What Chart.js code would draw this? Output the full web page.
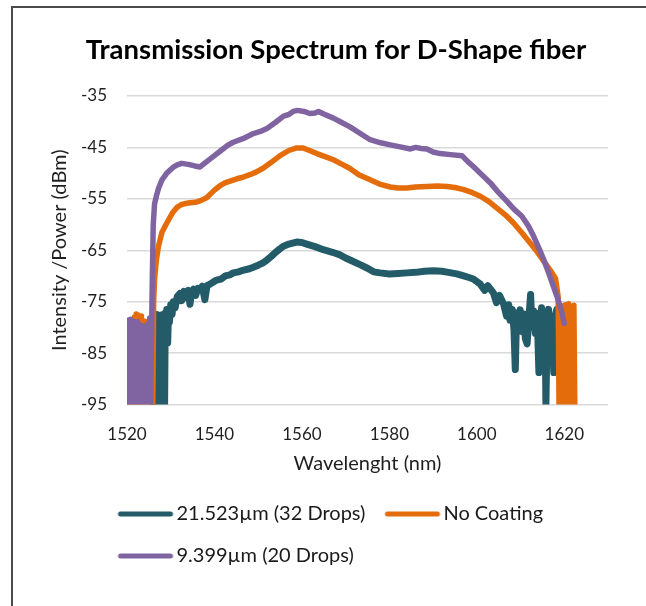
<!DOCTYPE html>
<html lang="en">
<head>
<meta charset="UTF-8">
<title>Transmission Spectrum for D-Shape fiber</title>
<style>
  html, body { margin: 0; padding: 0; background: #fff; }
  #wrap { position: relative; width: 646px; height: 606px; overflow: hidden; }
  #frame { position: absolute; left: 11px; top: 6px; width: 700px; height: 700px;
           border-top: 2px solid #4a4a4a; border-left: 2px solid #4a4a4a; }
  canvas { position: absolute; left: 0; top: 0; }
</style>
</head>
<body>
<div id="wrap">
  <div id="frame"></div>
  <canvas id="myChart" width="646" height="606"></canvas>
</div>

<script src="https://cdn.jsdelivr.net/npm/chart.js"></script>

<script>
  // series (wavelength nm / power dBm)
  const tealLabel = '21.523µm (32 Drops)';
  const tealWl = [1526.2, 1526.35, 1526.5, 1526.65, 1526.8, 1526.95, 1527.1, 1527.25, 1527.4, 1527.55,
    1527.7, 1527.85, 1528.0, 1528.15, 1528.3, 1528.45, 1528.6, 1528.75, 1528.9, 1529.1,
    1529.3, 1529.5, 1529.7, 1530.0, 1530.3, 1530.6, 1531.0, 1531.5, 1532.1, 1532.5,
    1533.0, 1533.5, 1534.0, 1534.4, 1534.8, 1535.2, 1535.7, 1536.2, 1536.7, 1537.2,
    1537.8, 1538.3, 1539.0, 1539.7, 1540.5, 1541.5, 1542.5, 1543.5, 1544.3, 1545.5,
    1546.5, 1548.0, 1548.9, 1550.0, 1551.0, 1552.0, 1553.0, 1554.0, 1555.0, 1555.8,
    1557.0, 1558.8, 1560.0, 1561.1, 1563.0, 1564.9, 1567.0, 1568.7, 1570.0, 1571.0,
    1573.3, 1575.0, 1576.4, 1577.9, 1580.0, 1582.0, 1584.0, 1586.0, 1588.0, 1590.1,
    1592.0, 1593.5, 1595.4, 1597.0, 1598.2, 1599.2, 1600.8, 1601.8, 1602.5, 1603.8,
    1604.5, 1605.2, 1606.1, 1606.8, 1607.3, 1607.6, 1608.1, 1608.5, 1608.8, 1609.1,
    1609.5, 1609.9, 1610.3, 1610.7, 1611.1, 1611.5, 1611.9, 1612.3, 1612.6, 1613.0,
    1613.4, 1613.8, 1614.2, 1614.5, 1614.8, 1615.2, 1615.6, 1615.8, 1616.1, 1616.4,
    1616.8, 1617.2, 1617.6, 1617.9, 1618.3, 1618.7, 1619.1, 1619.6, 1620.1, 1620.6,
    1621.2, 1621.8];
  const tealDb = [-95, -78.0, -95, -77.5, -95, -78.5, -95, -77.8, -95, -78.2,
    -95, -77.6, -95, -78.3, -95, -77.9, -95, -77.2, -80.0, -76.5,
    -83.0, -76.8, -79.0, -75.6, -77.5, -75.0, -76.2, -74.0, -73.4, -74.8,
    -73.0, -74.2, -72.8, -75.5, -73.0, -72.6, -73.8, -72.4, -72.6, -72.0,
    -74.6, -71.9, -71.6, -71.2, -70.8, -70.6, -70.0, -69.8, -69.4, -69.2,
    -68.9, -68.6, -68.3, -67.9, -67.5, -66.9, -66.2, -65.4, -64.7, -64.2,
    -63.8, -63.4, -63.5, -63.8, -64.3, -64.9, -65.4, -65.9, -66.5, -66.9,
    -67.8, -68.5, -69.2, -69.4, -69.6, -69.5, -69.4, -69.3, -69.1, -69.0,
    -69.1, -69.3, -69.6, -70.0, -70.3, -70.6, -71.6, -72.8, -71.9, -73.3,
    -75.2, -73.8, -75.4, -77.8, -75.6, -78.6, -76.5, -80.5, -88.2, -77.2,
    -79.5, -76.6, -80.8, -77.4, -82.2, -83.2, -78.3, -73.6, -79.8, -76.8,
    -81.2, -77.3, -88.8, -79.1, -76.2, -82.5, -78.0, -95, -79.5, -76.5,
    -83.5, -78.6, -88.8, -77.8, -76.5, -81.5, -77.5, -80.4, -78.2, -80.8,
    -79.2, -80.5];

  const orangeLabel = 'No Coating';
  const orangeWl = [1520.1, 1520.3, 1520.5, 1520.7, 1520.9, 1521.1, 1521.3, 1521.5, 1521.7, 1521.9,
    1522.1, 1522.3, 1522.5, 1522.7, 1522.9, 1523.1, 1523.3, 1523.5, 1523.7, 1523.9,
    1524.1, 1524.3, 1524.5, 1524.7, 1524.9, 1525.1, 1525.3, 1525.5, 1525.7, 1525.9,
    1526.1, 1526.3, 1526.7, 1527.2, 1528.0, 1529.1, 1530.5, 1531.5, 1532.5, 1534.0,
    1536.0, 1537.0, 1538.2, 1540.0, 1541.2, 1542.4, 1545.1, 1546.5, 1548.1, 1549.5,
    1551.2, 1553.0, 1555.0, 1557.0, 1558.8, 1560.3, 1562.0, 1563.4, 1565.0, 1567.2,
    1569.0, 1571.0, 1573.0, 1575.6, 1578.0, 1580.2, 1582.0, 1584.0, 1586.0, 1588.6,
    1591.0, 1593.2, 1595.0, 1597.0, 1599.0, 1600.8, 1602.7, 1604.6, 1606.5, 1608.4,
    1610.3, 1612.2, 1613.8, 1615.3, 1616.8, 1618.0, 1618.6, 1618.8, 1619.0, 1619.2,
    1619.4, 1619.6, 1619.8, 1620.0, 1620.2, 1620.4, 1620.6, 1620.8, 1621.0, 1621.2,
    1621.4, 1621.6, 1621.8, 1622.0, 1622.2, 1622.4];
  const orangeDb = [-79.5, -95, -79.0, -95, -79.6, -95, -78.8, -95, -78.0, -95,
    -77.4, -95, -77.6, -95, -78.4, -95, -77.8, -95, -79.2, -95,
    -78.8, -95, -79.5, -95, -79.0, -95, -79.8, -95, -84.0, -95,
    -75.0, -70.7, -67.0, -64.2, -61.5, -59.7, -57.6, -56.6, -56.1, -55.8,
    -55.6, -55.3, -54.8, -53.3, -52.5, -51.9, -51.1, -50.8, -50.3, -49.8,
    -49.0, -47.9, -46.6, -45.6, -45.1, -45.1, -45.7, -46.2, -46.7, -47.4,
    -48.2, -49.1, -50.3, -51.3, -52.2, -52.7, -52.9, -52.9, -52.7, -52.6,
    -52.5, -52.6, -52.8, -53.2, -53.8, -54.5, -55.5, -56.8, -58.1, -59.7,
    -61.6, -63.6, -65.3, -67.1, -68.9, -70.5, -74.0, -95, -76.2, -95,
    -75.8, -95, -76.4, -95, -75.6, -95, -76.0, -95, -75.4, -95,
    -75.9, -95, -76.3, -95, -75.7, -95];

  const purpleLabel = '9.399µm (20 Drops)';
  const purpleWl = [1520.0, 1520.2, 1520.4, 1520.6, 1520.8, 1521.0, 1521.2, 1521.4, 1521.6, 1521.8,
    1522.0, 1522.2, 1522.4, 1522.6, 1522.8, 1523.0, 1523.2, 1523.4, 1523.6, 1523.8,
    1524.0, 1524.2, 1524.4, 1524.6, 1524.8, 1525.0, 1525.2, 1525.4, 1525.6, 1525.8,
    1526.0, 1526.3, 1526.8, 1527.2, 1528.0, 1529.1, 1530.5, 1531.5, 1532.5, 1534.0,
    1535.5, 1536.7, 1538.0, 1539.7, 1541.5, 1543.0, 1544.3, 1546.5, 1548.9, 1550.5,
    1552.0, 1554.0, 1555.8, 1557.0, 1558.0, 1559.0, 1560.5, 1561.8, 1563.0, 1563.8,
    1565.0, 1567.2, 1569.0, 1571.0, 1573.0, 1575.6, 1578.0, 1580.2, 1582.5, 1584.8,
    1586.0, 1587.3, 1588.6, 1590.0, 1591.6, 1594.0, 1596.6, 1598.0, 1599.2, 1601.0,
    1603.1, 1605.0, 1606.9, 1608.5, 1610.3, 1611.8, 1613.0, 1614.2, 1615.3, 1616.5,
    1617.5, 1618.5, 1619.3, 1620.0];
  const purpleDb = [-78.6, -95, -79.0, -95, -78.4, -95, -79.2, -95, -78.8, -95,
    -79.4, -95, -78.9, -95, -80.2, -95, -79.6, -95, -80.8, -95,
    -79.8, -95, -80.6, -95, -79.4, -95, -78.2, -95, -82.0, -70.0,
    -60.0, -56.0, -54.2, -53.0, -51.3, -50.0, -48.9, -48.4, -48.1, -48.3,
    -48.6, -48.8, -47.9, -46.8, -45.6, -44.6, -44.0, -43.3, -42.3, -41.9,
    -41.3, -40.1, -38.9, -38.6, -38.0, -37.8, -38.0, -38.4, -38.3, -38.0,
    -38.5, -39.3, -40.1, -41.0, -42.1, -43.5, -44.1, -44.5, -44.9, -45.3,
    -45.0, -45.2, -45.3, -45.9, -46.2, -46.4, -46.6, -47.8, -48.7, -50.2,
    -51.9, -53.8, -55.5, -57.0, -58.4, -60.3, -62.3, -64.6, -66.8, -69.6,
    -72.0, -74.4, -76.6, -79.2];

  const xTicks = [1520, 1540, 1560, 1580, 1600, 1620];
  const yTicks = [-95, -85, -75, -65, -55, -45, -35];

  const pts = (wl, db) => wl.map((x, i) => ({x: x, y: db[i]}));

  // little line sample for the legend, a bit off-centre so the text sits close to it
  function legendLine(color) {
    const c = document.createElement('canvas');
    c.width = 62;
    c.height = 10;
    const g = c.getContext('2d');
    g.strokeStyle = color;
    g.lineWidth = 5;
    g.lineCap = 'round';
    g.beginPath();
    g.moveTo(8, 5);
    g.lineTo(58, 5);
    g.stroke();
    return c;
  }

  function series(label, wl, db, color, width, order) {
    return {
      label: label,
      data: pts(wl, db),
      borderColor: color,
      backgroundColor: color,
      borderWidth: width,
      borderCapStyle: 'round',
      borderJoinStyle: 'round',
      pointRadius: 0,
      pointStyle: legendLine(color),
      order: order
    };
  }

  // nudge title and legend to where the original puts them
  const placeBlocks = {
    id: 'placeBlocks',
    afterLayout(chart) {
      if (chart.titleBlock) { chart.titleBlock.left = 64; chart.titleBlock.right = 608; }
      if (chart.legend) { chart.legend.left = 98.5; }
    }
  };

  Chart.defaults.font.family = 'Lato';
  Chart.defaults.color = '#1f1f1f';

  const ctx = document.getElementById('myChart');
  new Chart(ctx, {
    type: 'line',
    data: {
      datasets: [
        series(tealLabel, tealWl, tealDb, '#235B68', 7, 3),
        series(orangeLabel, orangeWl, orangeDb, '#E46C0A', 5.5, 2),
        series(purpleLabel, purpleWl, purpleDb, '#8064A2', 5.5, 1)
      ]
    },
    plugins: [placeBlocks],
    options: {
      responsive: false,
      animation: false,
      layout: { padding: { top: 0, left: 14, right: 38, bottom: 30 } },
      scales: {
        x: {
          type: 'linear',
          min: 1520,
          max: 1630,
          afterBuildTicks: s => { s.ticks = xTicks.map(v => ({value: v})); },
          afterFit: s => { s.height = 77.5; },
          ticks: { stepSize: 20, padding: 20, font: { size: 17 }, callback: v => String(v) },
          grid: { display: false, drawTicks: false },
          border: { display: false },
          title: { display: true, text: 'Wavelenght (nm)', font: { size: 20 }, padding: { top: 0, bottom: 6 } }
        },
        y: {
          min: -95,
          max: -35,
          afterBuildTicks: s => { s.ticks = yTicks.map(v => ({value: v})); },
          afterFit: s => { s.width = 113; },
          ticks: { stepSize: 10, padding: 20, font: { size: 17 }, callback: v => String(v) },
          grid: { color: '#d9d9d9', lineWidth: 1.5, drawTicks: false },
          border: { display: false },
          title: { display: true, text: 'Intensity /Power (dBm)', font: { size: 20 }, padding: { top: 34, bottom: 0 } }
        }
      },
      plugins: {
        title: {
          display: true,
          text: 'Transmission Spectrum for D-Shape fiber',
          color: '#000',
          font: { size: 27.5, weight: 'bold' },
          padding: { top: 34, bottom: 29 }
        },
        legend: {
          position: 'bottom',
          align: 'start',
          labels: {
            usePointStyle: true,
            pointStyleWidth: 46,
            padding: 22,
            color: '#1a1a1a',
            font: { size: 20 },
            sort: (a, b) => a.datasetIndex - b.datasetIndex
          }
        },
        tooltip: { enabled: false }
      }
    }
  });
</script>
</body>
</html>
